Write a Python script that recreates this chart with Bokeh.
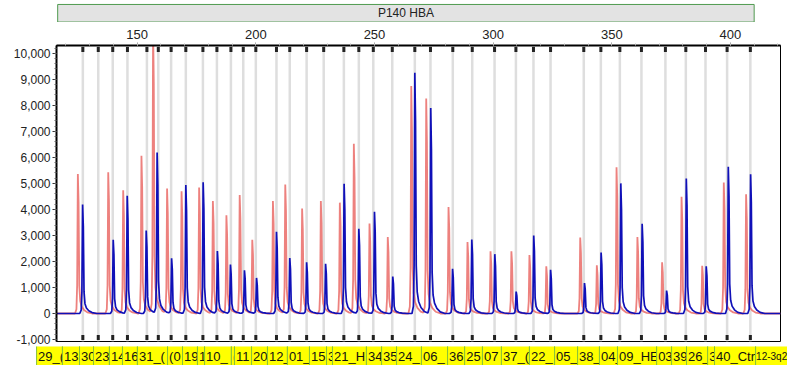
import numpy as np
from bokeh.plotting import figure
from bokeh.layouts import column, row
from bokeh.models import Range1d, SingleIntervalTicker, NumeralTickFormatter
from bokeh.embed import file_html
from bokeh.resources import INLINE
from bokeh.core.properties import value

# ---------------- data ----------------
title_text = "P140 HBA"

# probe bin positions (fragment size, nt)
bins = [127.1, 133.6, 139.7, 145.9, 154.1, 158.9, 164.3, 170.5, 177.7, 183.6,
        189.5, 194.7, 200.0, 208.7, 214.3, 221.4, 228.6, 237.1, 243.4, 249.5,
        257.5, 267.0, 273.6, 283.0, 291.2, 300.6, 309.6, 317.0, 324.2, 338.2,
        345.4, 353.4, 362.5, 372.6, 381.2, 389.5, 398.6, 408.4]

# probe labels as visible in the bottom row, and where each label box starts
probe_labels = ["29_(", "13", "30", "23", "14", "16", "31_(", "(0", "19", "1",
                "10_", "(", "11", "20", "12_", "01_", "15", "3", "21_H", "34",
                "35", "24_", "06_", "36", "25", "07", "37_(", "22_", "05_", "38_",
                "04_", "09_HE", "03", "39", "26_", "3", "40_Ctrl", "12-3q2"]
label_start = [107.6, 118.5, 125.7, 131.6, 138.3, 143.8, 150.1, 162.8, 169.1, 175.4,
               178.4, 189.7, 191.0, 198.2, 204.9, 213.3, 222.6, 229.8, 232.3, 246.6,
               253.0, 259.3, 269.8, 280.8, 288.0, 295.5, 303.5, 315.3, 325.9, 335.6,
               344.8, 352.4, 368.9, 375.2, 381.5, 390.4, 393.3, 410.6]

# blue channel (sample) peaks
blue_pos = [127.0, 133.6, 139.9, 145.8, 153.8, 158.4, 164.5, 170.5, 177.8, 183.8,
            189.3, 195.2, 200.3, 208.7, 214.3, 221.4, 229.4, 237.2, 243.4, 250.0,
            257.7, 267.0, 273.7, 282.9, 291.0, 300.7, 309.7, 317.1, 324.2, 338.5,
            345.5, 353.8, 362.8, 373.1, 381.4, 389.8, 399.1, 408.5]
blue_height = [4190, 0, 2830, 4520, 3190, 6170, 2120, 4940, 5040, 2400,
               1880, 1660, 1360, 3140, 2130, 1970, 1910, 4990, 3260, 3910,
               1420, 9250, 7900, 1720, 2840, 2280, 840, 3000, 1680, 1170,
               2340, 5000, 3450, 880, 5190, 1810, 5640, 5350]

# red channel (reference) peaks
red_pos = [125.0, 131.7, 137.8, 144.1, 151.8, 156.7, 162.6, 168.7, 176.1, 181.9,
           187.6, 193.2, 198.5, 207.2, 212.4, 219.5, 227.4, 235.4, 241.3, 247.9,
           255.6, 265.5, 271.8, 281.2, 289.2, 298.9, 307.7, 315.3, 322.4, 336.7,
           343.7, 352.0, 360.8, 371.2, 379.4, 388.1, 397.2, 406.6]
red_height = [5360, 0, 5430, 4740, 6060, 11000, 4800, 4700, 4840, 4320,
              3770, 4550, 2820, 4320, 4940, 4030, 4320, 4260, 6520, 3460,
              2940, 8740, 8260, 4090, 2750, 2390, 2390, 2250, 1810, 2920,
              1850, 5620, 2940, 1970, 4490, 1830, 5030, 4580]

size_tick_step = 50
rfu_tick_step = 1000

# ---------------- layout / style ----------------
X0, X1 = 116.0, 421.1
Y0, Y1 = -1077, 10300
W = 787
ML, MR = 56, 7
FW = W - ML - MR
TITLE_H = 22
MAIN_H, MT, MB = 324, 23, 5
LAB_H = 19
FH = MAIN_H - MT - MB
FONT = value("Liberation Sans")

# peak shape (relative offsets in nt, fraction of height)
tpl_dx = np.array([-1.2, -0.6, -0.3, 0.0, 0.3, 0.6, 1.0, 1.6, 2.6, 4.0, 6.0])
tpl_f = np.array([0.0, 0.03, 0.2, 1.0, 0.8, 0.2, 0.09, 0.05, 0.025, 0.008, 0.0])


def trace(pos, height):
    pts = [np.array([X0, X1])]
    for p_, h in zip(pos, height):
        if h > 0:
            pts.append(p_ + tpl_dx)
    xs = np.unique(np.concatenate(pts))
    ys = np.zeros_like(xs)
    for p_, h in zip(pos, height):
        if h > 0:
            ys += h * np.interp(xs, p_ + tpl_dx, tpl_f, left=0.0, right=0.0)
    return xs, ys


# ---------------- title bar ----------------
x_range = Range1d(X0, X1)
tf = figure(width=W, height=TITLE_H, x_range=x_range, y_range=Range1d(0, 1),
            min_border_left=ML, min_border_right=MR, min_border_top=0, min_border_bottom=0,
            toolbar_location=None, output_backend="svg",
            x_axis_location=None, y_axis_location=None)
tf.outline_line_color = None
tf.grid.visible = False
box_l, box_r = 116.5, 410.0
tf.quad(left=[box_l], right=[box_r], bottom=[0.02], top=[0.82],
        fill_color="#e3e3e3", line_color="#4f9a4f", line_width=1)
tf.text(x=[(box_l + box_r) / 2], y=[0.42], text=[title_text], text_align="center",
        text_baseline="middle", text_font=FONT, text_font_size="12px", text_color="#222222")

# ---------------- main plot ----------------
p = figure(width=W, height=MAIN_H, x_range=x_range, y_range=Range1d(Y0, Y1),
           x_axis_location="above",
           min_border_left=ML, min_border_right=MR, min_border_top=MT, min_border_bottom=MB,
           toolbar_location=None, output_backend="svg")
p.grid.visible = False
p.outline_line_color = "black"
p.outline_line_width = 1

# bin lines
p.segment(x0=bins, y0=[Y0] * len(bins), x1=bins, y1=[Y1] * len(bins),
          line_color="#dedede", line_width=2.5)

# traces
rx, ry = trace(red_pos, red_height)
p.line(rx, ry, line_color="#e8625e", line_width=1.8, line_alpha=0.8)
bx, by = trace(blue_pos, blue_height)
p.line(bx, by, line_color="#1010b8", line_width=1.7)

# bin markers
upp = (Y1 - Y0) / FH
p.rect(x=bins, y=[Y1 - 4.0 * upp] * len(bins), width=3, height=5,
       width_units="screen", height_units="screen", fill_color="#222222", line_color=None)
p.rect(x=bins, y=[Y0 + 4 * upp] * len(bins), width=3, height=5,
       width_units="screen", height_units="screen", fill_color="#222222", line_color=None)

xa = p.xaxis[0]
xa.ticker = SingleIntervalTicker(interval=size_tick_step, num_minor_ticks=5)
xa.axis_line_width = 2
xa.axis_line_color = "black"
xa.major_tick_in = 0
xa.major_tick_out = 3
xa.minor_tick_in = 0
xa.minor_tick_out = 2
xa.major_tick_line_color = "#999999"
xa.minor_tick_line_color = "#bbbbbb"
xa.major_label_standoff = 4
xa.major_label_text_font = "Liberation Sans"
xa.major_label_text_font_size = "13px"
xa.major_label_text_color = "#222222"

ya = p.yaxis[0]
ya.ticker = SingleIntervalTicker(interval=rfu_tick_step, num_minor_ticks=5)
ya.formatter = NumeralTickFormatter(format="0,0")
ya.axis_line_width = 2
ya.axis_line_color = "black"
ya.major_tick_in = 0
ya.major_tick_out = 4
ya.minor_tick_in = 0
ya.minor_tick_out = 2
ya.major_tick_line_color = "#333333"
ya.minor_tick_line_color = "#666666"
ya.major_label_standoff = 2
ya.major_label_text_font = "Liberation Sans"
ya.major_label_text_font_size = "12px"
ya.major_label_text_color = "#222222"

# ---------------- probe label row ----------------
# same size scale as the plot frame, but spanning the whole page width
ppu = FW / (X1 - X0)
LX0 = X0 - ML / ppu
LX1 = X0 + (W - ML) / ppu
lab = figure(width=W, height=LAB_H, x_range=Range1d(LX0, LX1), y_range=Range1d(0, 1),
             min_border=0, toolbar_location=None, output_backend="svg",
             x_axis_location=None, y_axis_location=None)
lab.outline_line_color = None
lab.grid.visible = False
ends = label_start[1:] + [LX1 + 1]
last = len(probe_labels) - 1
for i, name in enumerate(probe_labels):
    lab.quad(left=[label_start[i]], right=[ends[i]], bottom=[-0.05], top=[1.05],
             fill_color="#ffff00", line_color="#86c23a", line_width=1)
    # the last label has to fit before the page edge
    fs = "10px" if i == last else "13px"
    lab.text(x=[label_start[i]], y=[0.45], text=[name], x_offset=0.5 if i == last else 1.5,
             text_baseline="middle", text_font=FONT, text_font_size=fs,
             text_color="#111111")

layout = column(tf, p, row(lab), spacing=0)
open("out.html", "w").write(file_html(layout, INLINE))
